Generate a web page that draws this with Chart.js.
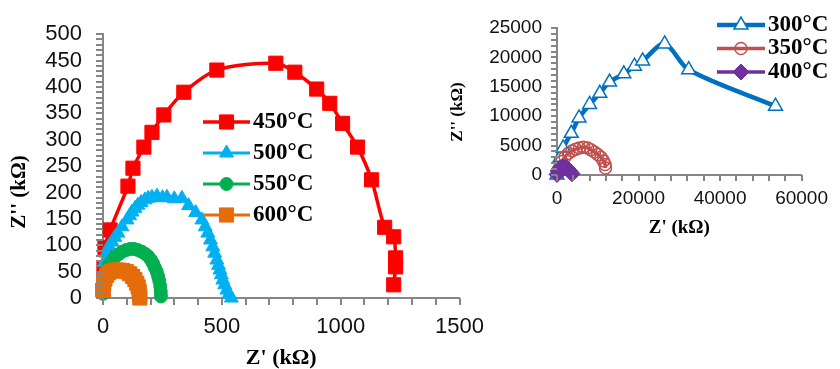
<!DOCTYPE html>
<html>
<head>
<meta charset="utf-8">
<script src="https://cdn.jsdelivr.net/npm/chart.js@4.4.1/dist/chart.umd.min.js"></script>
<style>
  html, body { margin: 0; padding: 0; background: #fff; }
  body { width: 840px; height: 369px; position: relative; overflow: hidden; }
  canvas { position: absolute; top: 0; }
  #left { left: 0; }
  #right { left: 440px; }
</style>
</head>
<body>
<canvas id="left" width="500" height="369"></canvas>
<canvas id="right" width="400" height="250"></canvas>
<script>
    // 색상 / 글꼴
    const axisGray = '#868686';
    const tickGray = '#858585';
    const serif = "'Liberation Serif', 'Times New Roman', serif";
    const sans = "'Liberation Sans', Arial, sans-serif";

    // 왼쪽 그래프 데이터 (Z' , Z'' in kΩ)
    const leftLabels = ['450°C', '500°C', '550°C', '600°C'];
    const leftXTicks = [0, 500, 1000, 1500];
    const leftYTicks = [0, 50, 100, 150, 200, 250, 300, 350, 400, 450, 500];

    const t450x = [0, 4, 8, 30, 105, 126, 172, 206, 256, 340, 479, 727, 807, 899, 954, 1008, 1071, 1130, 1185, 1223, 1231, 1231, 1223];
    const t450y = [15, 55, 96, 129, 212, 246, 286, 314, 347, 390, 432, 445, 428, 396, 369, 331, 286, 224, 134, 116, 76, 59, 25];

    const t500x = [2, 5, 8, 15, 25, 38, 50, 63, 80, 101, 112, 122, 135, 147, 160, 176, 190, 206, 227, 250, 269, 300, 332, 360, 390, 416, 430, 441, 452, 462, 470, 479, 486, 492, 498, 504, 512, 521, 530, 540];
    const t500y = [30, 50, 70, 85, 98, 106, 115, 123, 135, 148, 156, 163, 170, 176, 181, 186, 189, 191, 193, 190, 191, 188, 189, 175, 162, 148, 135, 123, 110, 97, 85, 72, 62, 53, 44, 34, 25, 15, 7, 0];

    const t550x = [0, 2, 6, 12, 22, 35, 50, 66, 82, 98, 114, 130, 146, 162, 177, 190, 201, 210, 218, 226, 232, 237, 241, 243, 244];
    const t550y = [8, 22, 36, 48, 60, 69, 77, 83, 88, 91, 93, 93, 91, 88, 84, 79, 73, 66, 58, 50, 41, 32, 22, 12, 3];

    const t600x = [0, 3, 8, 15, 25, 38, 52, 68, 83, 98, 112, 124, 134, 142, 148, 152, 154, 155];
    const t600y = [15, 27, 36, 43, 48, 51, 53, 53, 52, 50, 46, 41, 35, 28, 21, 13, 6, 0];

    // 오른쪽 그래프 데이터
    const rightLabels = ['300°C', '350°C', '400°C'];
    const rightXTicks = [0, 20000, 40000, 60000];
    const rightYTicks = [0, 5000, 10000, 15000, 20000, 25000];

    const t300x = [0, 300, 800, 1500, 3500, 5400, 8000, 10500, 12900, 16400, 19000, 21000, 26400, 32300, 53600];
    const t300y = [0, 1500, 3000, 4600, 7100, 9700, 12000, 13900, 15800, 17200, 18500, 19400, 22300, 17900, 11700];

    const t350x = [200, 600, 1200, 2000, 2800, 3700, 4600, 5500, 6500, 7500, 8300, 9200, 10000, 10800, 11400, 11800, 11900];
    const t350y = [300, 1200, 2300, 3100, 3700, 4100, 4400, 4600, 4700, 4600, 4300, 3900, 3500, 3000, 2400, 1800, 1200];

    const t400x = [0, 300, 800, 1400, 2100, 2700, 3200, 3700];
    const t400y = [100, 700, 1200, 1400, 1300, 1000, 600, 200];

    const toPoints = (xs, ys) => xs.map((x, i) => ({ x: x, y: ys[i] }));

    // 그래프 안쪽 범례
    const insideLegend = {
        id: 'insideLegend',
        afterDraw(chart, args, opts) {
            const ctx = chart.ctx;
            ctx.save();
            chart.data.datasets.forEach((ds, i) => {
                const y = opts.y + i * opts.rowH;
                ctx.strokeStyle = ds.borderColor;
                ctx.lineWidth = ds.borderWidth;
                ctx.beginPath();
                ctx.moveTo(opts.x, y);
                ctx.lineTo(opts.x + opts.lineLen, y);
                ctx.stroke();
                ctx.fillStyle = ds.pointBackgroundColor;
                ctx.strokeStyle = ds.pointBorderColor;
                ctx.lineWidth = ds.pointBorderWidth;
                Chart.helpers.drawPoint(ctx, {
                    pointStyle: ds.pointStyle,
                    radius: ds.pointRadius,
                    borderWidth: ds.pointBorderWidth,
                    rotation: 0
                }, opts.x + opts.lineLen / 2, y);
                ctx.fillStyle = '#000';
                ctx.font = opts.font;
                ctx.textBaseline = 'middle';
                ctx.textAlign = 'left';
                ctx.fillText(ds.label, opts.x + opts.lineLen + opts.gap, y);
            });
            ctx.restore();
        }
    };

    // 세로축 제목
    const yTitle = {
        id: 'yTitle',
        afterDraw(chart, args, opts) {
            const ctx = chart.ctx;
            ctx.save();
            ctx.translate(opts.x, opts.y);
            ctx.rotate(-Math.PI / 2);
            ctx.font = opts.font;
            ctx.fillStyle = '#000';
            ctx.textAlign = 'center';
            ctx.textBaseline = 'middle';
            ctx.fillText(opts.text, 0, 0);
            ctx.restore();
        }
    };

    // 눈금 표시 (축 바깥쪽)
    const tickMarks = {
        id: 'tickMarks',
        afterDraw(chart, args, opts) {
            const ctx = chart.ctx;
            const xs = chart.scales.x, ys = chart.scales.y;
            const a = chart.chartArea;
            ctx.save();
            ctx.fillStyle = tickGray;
            xs.ticks.forEach((t) => {
                const p = Math.round(xs.getPixelForValue(t.value));
                ctx.fillRect(p - 1, a.bottom, 2, opts.len);
            });
            ys.ticks.forEach((t) => {
                const p = Math.round(ys.getPixelForValue(t.value));
                ctx.fillRect(a.left - opts.len, p - 1, opts.len, 2);
            });
            ctx.restore();
        }
    };

    function series(label, xs, ys, color, style, radius, lineW, fill, borderW, order) {
        return {
            label: label,
            data: toPoints(xs, ys),
            showLine: true,
            borderColor: color,
            borderWidth: lineW,
            tension: 0.3,
            pointStyle: style,
            pointRadius: radius,
            pointHoverRadius: radius,
            pointBackgroundColor: fill,
            pointBorderColor: color,
            pointBorderWidth: borderW,
            order: order,
            clip: false
        };
    }

    function axis(min, max, step, labels, fontSize, pad, fit, title) {
        const opts = {
            type: 'linear',
            min: min,
            max: max,
            ticks: {
                stepSize: step,
                autoSkip: false,
                maxRotation: 0,
                padding: pad,
                color: '#111',
                font: { family: sans, size: fontSize },
                callback: (v) => labels.includes(Math.round(v)) ? String(Math.round(v)) : ''
            },
            grid: { display: false, drawTicks: false },
            border: { display: true, color: axisGray, width: 2 },
            afterFit: fit
        };
        if (title) opts.title = title;
        return opts;
    }

    new Chart(document.getElementById('left'), {
        type: 'scatter',
        data: {
            datasets: [
                series(leftLabels[0], t450x, t450y, '#FF0000', 'rect', 10, 3.5, '#FF0000', 1, 4),
                series(leftLabels[1], t500x, t500y, '#00B0F0', 'triangle', 8, 3, '#00B0F0', 1, 3),
                series(leftLabels[2], t550x, t550y, '#00B050', 'circle', 6.5, 3, '#00B050', 1, 2),
                series(leftLabels[3], t600x, t600y, '#E46C0A', 'rect', 10, 3, '#E46C0A', 1, 1)
            ]
        },
        options: {
            responsive: false,
            animation: false,
            layout: { padding: { top: 34, right: 40, left: 0, bottom: 0 } },
            plugins: {
                legend: { display: false },
                tooltip: { enabled: false },
                insideLegend: { x: 203, y: 122, rowH: 31, lineLen: 47, gap: 3, font: 'bold 23px ' + serif },
                yTitle: { x: 20, y: 192, text: "Z'' (kΩ)", font: 'bold 21px ' + serif },
                tickMarks: { len: 7 }
            },
            scales: {
                x: axis(0, 1500, 100, leftXTicks, 22, 16, (s) => { s.height = 71; }, {
                    display: true, text: "Z' (kΩ)", color: '#000', padding: 0,
                    font: { family: serif, size: 22, weight: 'bold', lineHeight: 1 }
                }),
                y: axis(0, 500, 10, leftYTicks, 22, 21, (s) => { s.width = 103; })
            }
        },
        plugins: [insideLegend, yTitle, tickMarks]
    });

    new Chart(document.getElementById('right'), {
        type: 'scatter',
        data: {
            datasets: [
                series(rightLabels[0], t300x, t300y, '#0070C0', 'triangle', 8, 4.5, '#FFFFFF', 1.5, 3),
                series(rightLabels[1], t350x, t350y, '#C0504D', 'circle', 6, 3.5, 'rgba(0,0,0,0)', 1.5, 2),
                series(rightLabels[2], t400x, t400y, '#7030A0', 'rectRot', 8, 3.5, '#7030A0', 1, 1)
            ]
        },
        options: {
            responsive: false,
            animation: false,
            layout: { padding: { top: 28, right: 27, left: 0, bottom: 0 } },
            plugins: {
                legend: { display: false },
                tooltip: { enabled: false },
                insideLegend: { x: 277, y: 25, rowH: 23.5, lineLen: 48, gap: 3, font: 'bold 23px ' + serif },
                yTitle: { x: 18, y: 112, text: "Z'' (kΩ)", font: 'bold 17px ' + serif },
                tickMarks: { len: 6 }
            },
            scales: {
                x: axis(0, 60000, 4000, rightXTicks, 19, 12, (s) => { s.height = 75; }, {
                    display: true, text: "Z' (kΩ)", color: '#000', padding: { top: 0, bottom: 12 },
                    font: { family: serif, size: 19, weight: 'bold', lineHeight: 1 }
                }),
                y: axis(0, 25000, 1000, rightYTicks, 19, 15, (s) => { s.width = 117; })
            }
        },
        plugins: [insideLegend, yTitle, tickMarks]
    });
</script>
</body>
</html>
